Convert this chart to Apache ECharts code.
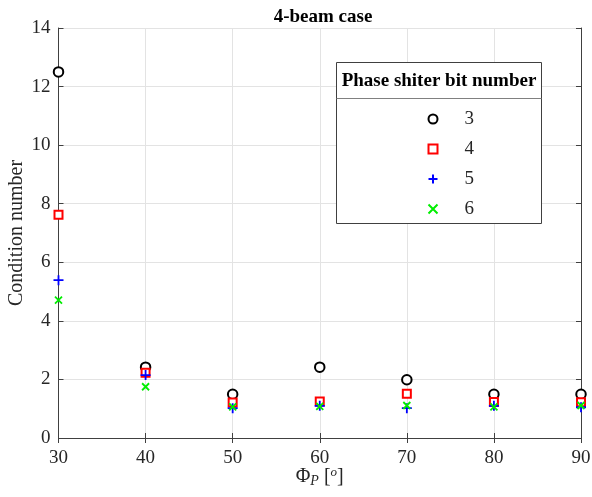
<!DOCTYPE html>
<html><head><meta charset="utf-8">
<script src="https://cdn.jsdelivr.net/npm/echarts@6/dist/echarts.min.js"></script>
<style>html,body{margin:0;padding:0;background:#fff}#c{width:592px;height:497px}</style>
</head><body><div id="c"></div>
<script>
var phiP = [30, 40, 50, 60, 70, 80, 90];
var bits3 = [12.5, 2.42, 1.49, 2.42, 1.99, 1.49, 1.49];
var bits4 = [7.62, 2.23, 1.21, 1.25, 1.51, 1.23, 1.22];
var bits5 = [5.39, 2.15, 1.02, 1.10, 1.02, 1.10, 1.05];
var bits6 = [4.71, 1.75, 1.06, 1.08, 1.11, 1.06, 1.11];
var seriesNames = ['3', '4', '5', '6'];
var xTicks = [30, 40, 50, 60, 70, 80, 90];
var yTicks = [0, 2, 4, 6, 8, 10, 12, 14];

var FONT = '"Liberation Serif", "DejaVu Serif", serif';
var pairs = function (ys) { return phiP.map(function (x, i) { return [x, ys[i]]; }); };
var PLUS = 'path://M0,5L10,5M5,0L5,10';
var CROSS = 'path://M0,0L10,10M0,10L10,0';

var axisCommon = {
  axisLine: { show: true, lineStyle: { color: '#404040', width: 1 } },
  axisTick: { show: true, inside: true, length: 5, lineStyle: { color: '#404040' } },
  axisLabel: { color: '#262626', fontFamily: FONT, fontSize: 19 },
  splitLine: { show: false }
};

var option = {
  backgroundColor: '#fff',
  animation: false,
  title: {
    text: '4-beam case', left: 318, top: 3, textAlign: 'center',
    textStyle: { fontFamily: FONT, fontSize: 19, fontWeight: 'bold', color: '#000' }
  },
  grid: { left: 58.5, right: 11, top: 28, bottom: 59, containLabel: false, outerBoundsMode: 'none' },
  xAxis: [
    Object.assign({}, axisCommon, {
      type: 'value', min: 30, max: 90, interval: 10, position: 'bottom',
      axisLabel: { color: '#262626', fontFamily: FONT, fontSize: 19, margin: 11,
        formatter: function (v) { return xTicks.indexOf(v) >= 0 ? String(v) : ''; } },
      splitLine: { show: true, lineStyle: { color: '#e3e3e3', width: 1 } },
      name: '{a|Φ}{b|P}{c| [}{d|o}{c|]}', nameLocation: 'middle', nameGap: 28, nameMoveOverlap: false,
      nameTextStyle: {
        rich: {
          a: { fontFamily: FONT, fontSize: 20, color: '#262626' },
          b: { fontFamily: FONT, fontSize: 14, fontStyle: 'italic', color: '#262626', verticalAlign: 'bottom', padding: [8, 0, 0, 0] },
          c: { fontFamily: FONT, fontSize: 20, color: '#262626' },
          d: { fontFamily: FONT, fontSize: 13, fontStyle: 'italic', color: '#262626', verticalAlign: 'top', padding: [0, 0, 8, 0] }
        }
      }
    }),
    Object.assign({}, axisCommon, {
      type: 'value', min: 30, max: 90, interval: 10, position: 'top',
      axisLabel: { show: false }
    })
  ],
  yAxis: [
    Object.assign({}, axisCommon, {
      type: 'value', min: 0, max: 14, interval: 2, position: 'left',
      axisLabel: { color: '#262626', fontFamily: FONT, fontSize: 19, margin: 8,
        formatter: function (v) { return yTicks.indexOf(v) >= 0 ? String(v) : ''; } },
      splitLine: { show: true, lineStyle: { color: '#e3e3e3', width: 1 } },
      name: 'Condition number', nameLocation: 'middle', nameGap: 32, nameRotate: 90, nameMoveOverlap: false,
      nameTextStyle: { fontFamily: FONT, fontSize: 20, color: '#262626' }
    }),
    Object.assign({}, axisCommon, {
      type: 'value', min: 0, max: 14, interval: 2, position: 'right',
      axisLabel: { show: false }
    })
  ],
  legend: {
    orient: 'vertical', left: 422.5, top: 104,
    data: seriesNames,
    itemWidth: 9, itemHeight: 9, itemGap: 10,
    textStyle: { fontFamily: FONT, fontSize: 19, color: '#262626', lineHeight: 20, padding: [0, 0, 0, 22] },
    selectedMode: false
  },
  graphic: [
    { type: 'rect', shape: { x: 336.5, y: 62.5, width: 205, height: 161 },
      style: { fill: '#fff', stroke: '#404040', lineWidth: 1 }, z: 1 },
    { type: 'line', shape: { x1: 336.5, y1: 98.5, x2: 541.5, y2: 98.5 },
      style: { stroke: '#808080', lineWidth: 1 }, z: 2 },
    { type: 'text', x: 439, y: 81, z: 2,
      style: { text: 'Phase shiter bit number', textAlign: 'center', textVerticalAlign: 'middle',
        fontFamily: FONT, fontSize: 19, fontWeight: 'bold', fill: '#000' } }
  ],
  series: [
    { name: '3', type: 'scatter', data: pairs(bits3), symbol: 'emptyCircle', symbolSize: 9.5,
      itemStyle: { color: '#000', borderColor: '#000', borderWidth: 1.6, opacity: 1 } },
    { name: '4', type: 'scatter', data: pairs(bits4), symbol: 'emptyRect', symbolSize: 8,
      itemStyle: { color: '#ff0000', borderColor: '#ff0000', borderWidth: 1.6, opacity: 1 } },
    { name: '5', type: 'scatter', data: pairs(bits5), symbol: PLUS, symbolSize: 10,
      itemStyle: { color: '#0000ff', borderColor: '#0000ff', borderWidth: 1.8, opacity: 1 } },
    { name: '6', type: 'scatter', data: pairs(bits6), symbol: CROSS, symbolSize: 7,
      itemStyle: { color: '#00ee00', borderColor: '#00ee00', borderWidth: 1.8, opacity: 1 } }
  ]
};
var chart = echarts.init(document.getElementById('c'));
chart.setOption(option);
</script></body></html>
